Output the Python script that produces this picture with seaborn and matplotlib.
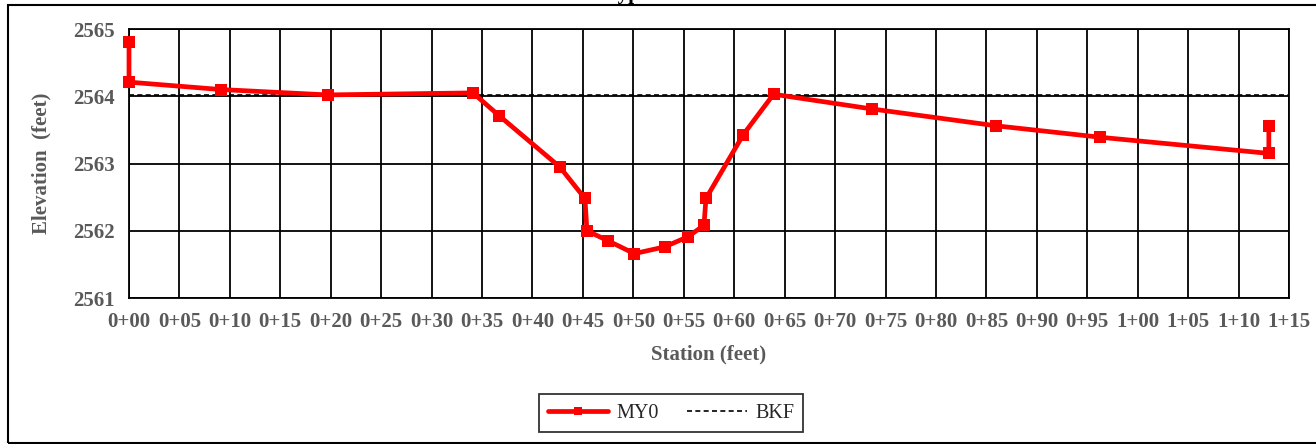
import numpy as np
import pandas as pd
import seaborn as sns
import matplotlib
matplotlib.use('Agg')
import matplotlib.pyplot as plt
from matplotlib.ticker import FuncFormatter, MultipleLocator
from matplotlib.patches import Rectangle

# =============================================================================
# Data
# =============================================================================
station = [0.0, 0.0, 9.1, 19.7, 34.1, 36.7, 42.7, 45.2, 45.4, 47.5, 50.1,
           53.1, 55.4, 57.0, 57.2, 60.9, 63.9, 73.7, 86.0, 96.3, 113.0, 113.0]
elev = [2564.80, 2564.21, 2564.10, 2564.02, 2564.05, 2563.71, 2562.95,
        2562.48, 2562.00, 2561.85, 2561.66, 2561.76, 2561.91, 2562.08,
        2562.48, 2563.43, 2564.03, 2563.81, 2563.56, 2563.39, 2563.15, 2563.56]
bkf_station = [0, 115]
bkf_elev = [2564.02, 2564.02]

df = pd.DataFrame({'station': station, 'elev': elev})
df_bkf = pd.DataFrame({'station': bkf_station, 'elev': bkf_elev})

sns.set_theme(style='white')
plt.rcParams['font.family'] = ['Liberation Serif', 'DejaVu Serif']

fig = plt.figure(figsize=(13.16, 4.44), dpi=100)
ax = fig.add_axes([129/1316, 1-298/444, (1289-129)/1316, (298-29)/444])

sns.lineplot(data=df_bkf, x='station', y='elev', ax=ax, color='black',
             linestyle=(0, (3, 2)), linewidth=1.2, label='BKF', zorder=3)
sns.lineplot(data=df, x='station', y='elev', ax=ax, color='#ff0000',
             linewidth=3.4, marker='s', markersize=9, markeredgewidth=0,
             sort=False, estimator=None, label='MY0', zorder=4, clip_on=False)

ax.set_xlim(0, 115)
ax.set_ylim(2561, 2565)
ax.xaxis.set_major_locator(MultipleLocator(5))
ax.yaxis.set_major_locator(MultipleLocator(1))
ax.xaxis.set_major_formatter(FuncFormatter(lambda v, p: f"{int(round(v))//100}+{int(round(v))%100:02d}"))
ax.yaxis.set_major_formatter(FuncFormatter(lambda v, p: f"{int(round(v))}"))
ax.grid(True, color='black', linewidth=1.3)
ax.set_axisbelow(True)
for s in ax.spines.values():
    s.set_color('black')
    s.set_linewidth(1.3)

gray = '#595959'
ax.tick_params(axis='both', which='major', direction='out', length=6,
               width=1.3, color='black', labelsize=15, labelcolor=gray, pad=4)
for lbl in ax.get_xticklabels() + ax.get_yticklabels():
    lbl.set_fontweight('bold')
ax.set_xlabel('Station (feet)', fontsize=15, fontweight='bold', color=gray, labelpad=9)
ax.set_ylabel('Elevation  (feet)', fontsize=15, fontweight='bold', color=gray, labelpad=16)

h, l = ax.get_legend_handles_labels()
leg = fig.legend([h[1], h[0]], [l[1], l[0]], loc='center', ncol=2,
                 bbox_to_anchor=(671/1316, 1-413/444), fontsize=14.5,
                 frameon=True, fancybox=False, edgecolor='black',
                 handlelength=3.0, handletextpad=0.4, columnspacing=1.4,
                 markerscale=0.6, borderpad=0.45)
leg.get_frame().set_linewidth(1.3)
if ax.get_legend():
    ax.get_legend().remove()

# title mostly cut off at the top edge
fig.text(589/1316, 1 + 1.5/444, 'Cross Section 1 - Typical Riffle', ha='center',
         va='baseline', fontsize=15, fontweight='bold', color='black')

# outer chart border
fig.patches.append(Rectangle((8/1316, 1-443/444), 1.01, (443-5)/444,
                             transform=fig.transFigure, fill=False,
                             edgecolor='black', linewidth=1.5))

fig.savefig('out.png', dpi=100)
